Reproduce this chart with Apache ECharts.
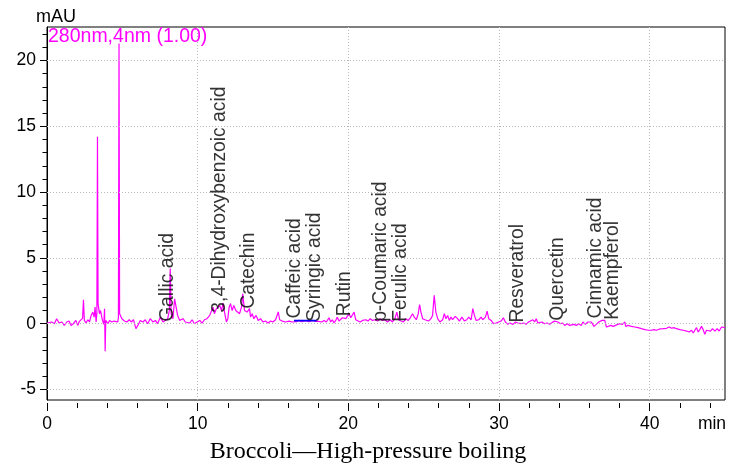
<!DOCTYPE html>
<html><head><meta charset="utf-8">
<script src="https://cdn.jsdelivr.net/npm/echarts@6/dist/echarts.min.js"></script>
<style>html,body{margin:0;padding:0;background:#fff}#c{width:731px;height:469px}</style>
</head><body><div id="c"></div>
<script>
// Chromatogram trace (retention time, min)
const times = [0.00,0.09,0.31,0.49,0.64,0.80,0.98,1.15,1.31,1.46,1.60,1.75,1.91,2.04,2.15,2.26,2.36,2.42,2.48,2.59,2.71,2.82,2.93,3.04,3.13,3.19,3.26,3.31,3.35,3.39,3.48,3.55,3.68,3.77,3.82,3.86,3.90,4.04,4.15,4.30,4.46,4.59,4.70,4.74,4.78,4.82,4.97,5.14,5.30,5.46,5.59,5.74,5.90,6.03,6.19,6.37,6.52,6.68,6.85,7.03,7.19,7.34,7.52,7.70,7.85,8.01,8.12,8.18,8.24,8.36,8.47,8.58,8.67,8.80,8.92,9.03,9.18,9.29,9.47,9.63,9.78,9.96,10.14,10.29,10.45,10.62,10.80,10.93,11.02,11.11,11.24,11.33,11.47,11.58,11.69,11.78,11.91,12.00,12.09,12.18,12.29,12.40,12.53,12.65,12.78,12.91,12.99,13.11,13.28,13.44,13.51,13.62,13.73,13.88,14.02,14.17,14.33,14.50,14.68,14.84,14.99,15.17,15.35,15.44,15.61,15.83,16.06,16.28,16.39,16.55,16.72,16.90,17.17,17.40,17.61,17.80,17.94,18.05,18.23,18.39,18.54,18.72,18.83,18.94,19.05,19.16,19.27,19.38,19.49,19.60,19.72,19.83,19.94,20.05,20.16,20.27,20.38,20.49,20.60,20.78,20.94,21.05,21.16,21.31,21.45,21.60,21.76,21.95,22.11,22.27,22.42,22.60,22.78,22.93,23.09,23.22,23.33,23.49,23.66,23.82,23.97,24.11,24.26,24.38,24.51,24.64,24.73,24.82,24.93,25.09,25.33,25.48,25.59,25.70,25.81,25.93,26.08,26.26,26.37,26.48,26.59,26.70,26.81,26.92,27.10,27.25,27.37,27.54,27.70,27.86,27.99,28.15,28.26,28.37,28.48,28.66,28.81,28.92,29.10,29.21,29.32,29.48,29.63,29.81,29.98,30.14,30.29,30.42,30.58,30.73,30.92,31.09,31.25,31.47,31.65,31.80,31.96,32.09,32.25,32.36,32.47,32.58,32.69,32.85,33.02,33.20,33.36,33.51,33.69,33.80,33.91,34.09,34.24,34.36,34.53,34.69,34.80,34.97,35.13,35.28,35.46,35.57,35.73,35.90,36.01,36.13,36.30,36.46,36.62,36.75,36.84,36.93,37.02,37.13,37.24,37.42,37.57,37.73,38.01,38.19,38.35,38.41,38.57,38.79,39.01,39.23,39.45,39.68,39.90,40.01,40.12,40.28,40.45,40.67,40.90,41.12,41.30,41.45,41.60,41.78,42.00,42.23,42.45,42.62,42.78,42.89,43.00,43.11,43.22,43.33,43.44,43.55,43.66,43.77,43.88,44.04,44.17,44.33,44.48,44.61,44.77,44.88,45.00];
// Absorbance (mAU)
const values = [0.05,0.05,0.13,0.00,0.38,0.05,0.13,-0.13,0.13,0.20,-0.13,0.00,0.25,-0.13,0.18,0.25,0.40,1.82,0.25,0.05,0.30,0.13,0.63,0.88,0.50,1.26,0.13,0.80,14.2,1.50,0.76,1.00,0.25,-0.05,1.14,-2.1,0.25,0.00,0.25,0.13,0.20,0.10,0.13,0.50,21.3,0.76,0.38,0.20,0.13,0.30,0.13,0.30,-0.38,-0.13,0.25,0.13,0.30,0.00,0.38,0.13,0.25,0.00,0.50,0.13,0.25,0.38,1.00,4.2,0.76,0.38,1.89,1.89,0.63,0.25,0.13,0.38,0.13,0.25,0.05,0.30,0.00,0.13,0.25,0.05,0.30,0.38,0.63,0.50,1.26,0.76,1.14,1.00,1.39,1.00,1.57,0.88,0.13,0.38,1.26,1.52,1.00,1.39,1.00,0.88,0.76,1.26,2.27,1.00,0.88,1.14,0.50,0.76,0.38,0.63,0.25,0.38,0.13,0.20,0.05,0.20,0.13,0.30,0.90,0.30,0.20,0.13,0.20,0.13,0.20,0.15,0.25,0.15,0.23,0.15,0.25,0.18,0.20,0.30,0.13,0.25,0.13,0.45,0.13,0.30,0.05,0.25,0.50,0.20,0.25,0.45,0.30,0.38,0.50,0.76,0.45,0.56,0.88,0.30,0.20,0.13,0.25,0.13,0.30,0.20,0.38,0.25,0.30,0.20,0.38,0.25,0.30,0.13,0.30,0.13,0.38,0.88,0.30,0.20,0.13,0.38,0.25,0.45,0.76,0.50,0.30,0.76,1.46,0.88,0.38,0.30,0.20,0.38,0.63,2.15,0.88,0.38,0.13,0.30,0.76,0.38,0.63,0.25,0.50,0.30,0.56,0.38,0.20,0.50,0.20,0.30,0.50,0.30,1.14,0.63,0.25,0.30,0.50,0.30,0.50,0.96,0.38,0.25,0.00,0.05,0.13,0.20,0.45,0.13,-0.05,0.05,-0.05,0.13,0.05,0.00,0.05,-0.05,0.13,0.00,0.30,0.13,0.38,0.05,0.00,0.13,0.00,0.05,-0.05,0.08,0.20,0.25,0.13,0.00,0.05,-0.13,0.00,-0.13,0.00,-0.05,-0.13,0.00,-0.13,0.13,-0.05,0.13,0.25,0.13,-0.20,-0.05,0.13,0.00,0.25,0.13,0.25,-0.25,-0.30,-0.13,-0.20,-0.13,0.00,-0.05,0.13,-0.20,-0.13,-0.20,-0.25,-0.30,-0.38,-0.45,-0.50,-0.63,-0.50,-0.45,-0.50,-0.40,-0.38,-0.35,-0.25,-0.35,-0.30,-0.38,-0.45,-0.50,-0.56,-0.63,-0.50,-0.71,-0.50,-0.30,-0.63,-0.45,-0.20,-0.45,-0.81,-0.50,-0.35,-0.56,-0.38,-0.56,-0.38,-0.56,-0.25,-0.20,-0.30];

// Peak annotations
const compoundNames = ['Gallic acid','3,4-Dihydroxybenzoic acid','Catechin','Caffeic acid','Syringic acid','Rutin','p-Coumaric acid','Ferulic acid','Resveratrol','Quercetin','Cinnamic acid','Kaempferol'];
const compoundTimes = [8.05,11.5,13.4,16.47,17.83,19.77,22.16,23.49,31.25,33.9,36.46,37.57];
const compoundLabelY = [0.1,0.8,1.1,0.35,0.1,0.53,0.1,0.1,0.05,0.18,0.35,0.27];

// Integration baseline (blue)
const baselineTimes = [16.39,17.9];
const baselineValues = [0.23,0.23];

// Axes
const xMajorTicks = [0,10,20,30,40];
const xMinorTicks = [0,2,4,6,8,10,12,14,16,18,20,22,24,26,28,30,32,34,36,38,40,42,44];
const yMajorTicks = [-5,0,5,10,15,20];
const yMinorTicks = [-5,-4,-3,-2,-1,0,1,2,3,4,5,6,7,8,9,10,11,12,13,14,15,16,17,18,19,20,21,22];
const xMin = 0, xMax = 45, yMin = -5.8, yMax = 22.55;

const FONT = "'Liberation Sans', Arial, sans-serif";
const chart = echarts.init(document.getElementById('c'), null, {renderer:'canvas'});

const grid = {left:47, right:6, top:27, bottom:69, show:true, borderColor:'#000', borderWidth:1, backgroundColor:'rgba(0,0,0,0)'};
const gridLineStyle = {color:'#b8b8b8', width:1, type:[1,2]};

chart.setOption({
  animation:false,
  grid: grid,
  xAxis: [
    {type:'value', min:xMin, max:xMax, interval:10, position:'bottom', offset:3,
     axisLine:{show:false, onZero:false}, axisTick:{show:true, length:8, customValues:xMajorTicks, lineStyle:{color:'#000'}},
     axisLabel:{customValues:xMajorTicks, color:'#000', fontSize:17.5, fontFamily:FONT, margin:12},
     splitLine:{show:true, lineStyle:gridLineStyle}},
    {type:'value', min:xMin, max:xMax, position:'bottom', offset:3,
     axisLine:{show:false, onZero:false}, axisTick:{show:true, length:5, customValues:xMinorTicks, lineStyle:{color:'#000'}},
     axisLabel:{show:false}, splitLine:{show:false}}
  ],
  yAxis: [
    {type:'value', min:yMin, max:yMax, position:'left',
     axisLine:{show:true, onZero:false, lineStyle:{color:'#000'}}, axisTick:{show:true, length:7, customValues:yMajorTicks, lineStyle:{color:'#000'}},
     axisLabel:{customValues:yMajorTicks, color:'#000', fontSize:17.5, fontFamily:FONT, margin:11},
     splitLine:{show:false}},
    {type:'value', min:yMin, max:yMax, position:'left',
     axisLine:{show:false, onZero:false}, axisTick:{show:true, length:4.5, customValues:yMinorTicks, lineStyle:{color:'#000'}},
     axisLabel:{show:false}, splitLine:{show:false}}
  ],
  series: [
    {type:'line', data:[], z:1, silent:true,
     markLine:{silent:true, symbol:'none', label:{show:false}, lineStyle:gridLineStyle,
       data: yMajorTicks.map(v => ({yAxis:v}))}},
    {type:'line', name:'280nm', z:3, showSymbol:false, symbol:'none', sampling:null, silent:true,
     lineStyle:{color:'#ff00ff', width:1.2}, itemStyle:{color:'#ff00ff'},
     data: times.map((t,i) => [t, values[i]])},
    {type:'line', name:'baseline', z:4, showSymbol:false, symbol:'none', silent:true,
     lineStyle:{color:'#0000ff', width:1.6},
     data: baselineTimes.map((t,i) => [t, baselineValues[i]])},
    {type:'scatter', z:5, silent:true, symbolSize:1, itemStyle:{color:'rgba(0,0,0,0)'},
     label:{show:true, formatter: p => p.name, rotate:90, position:[0,0], align:'left', verticalAlign:'middle',
       color:'#000', fontSize:19.3, fontFamily:FONT},
     data: compoundNames.map((n,i) => ({name:n, value:[compoundTimes[i], compoundLabelY[i]]}))}
  ],
  graphic: [
    {type:'text', x:36, y:17.5, style:{text:'mAU', fill:'#000', font:"18px "+FONT, align:'left', verticalAlign:'middle'}},
    {type:'text', x:48, y:37, z:10, style:{text:'280nm,4nm (1.00)', fill:'#ff00ff', font:"19.5px "+FONT, align:'left', verticalAlign:'middle'}},
    {type:'text', x:712, y:424, style:{text:'min', fill:'#000', font:"17.5px "+FONT, align:'center', verticalAlign:'middle'}},
    {type:'text', x:368, y:452, style:{text:'Broccoli\u2014High-pressure boiling', fill:'#000', font:"24px 'Liberation Serif', 'Times New Roman', serif", align:'center', verticalAlign:'middle'}}
  ]
});
</script>
</body></html>
